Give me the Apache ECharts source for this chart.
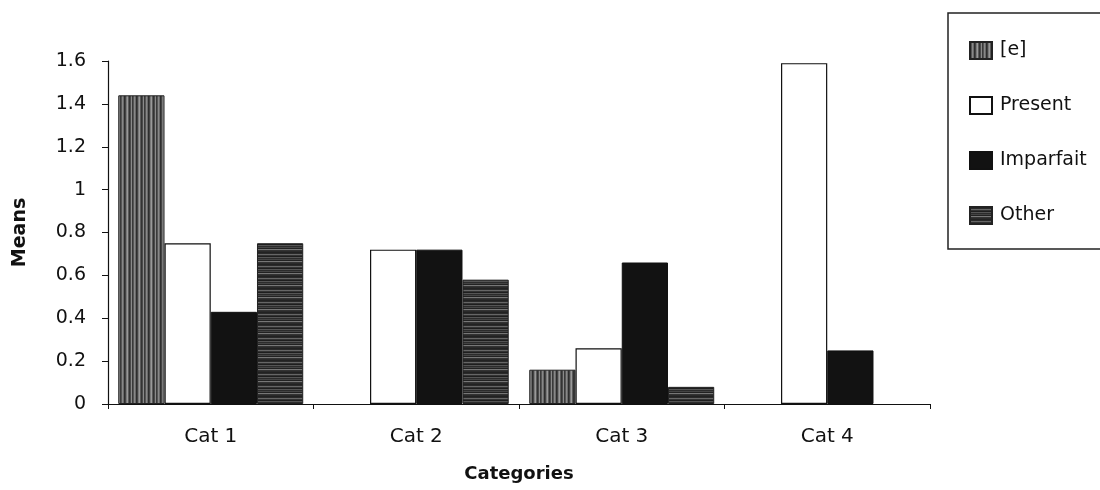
<!DOCTYPE html>
<html>
<head>
<meta charset="utf-8">
<script src="https://cdn.jsdelivr.net/npm/echarts@6/dist/echarts.min.js"></script>
<style>
html,body{margin:0;padding:0;background:#fff;}
#chart{width:1100px;height:490px;}
</style>
</head>
<body>
<div id="chart"></div>
<script>
var categories = ['Cat 1', 'Cat 2', 'Cat 3', 'Cat 4'];
var seriesNames = ['[e]', 'Present', 'Imparfait', 'Other'];
var eValues = [1.44, 0, 0.16, 0];
var presentValues = [0.75, 0.72, 0.26, 1.59];
var imparfaitValues = [0.43, 0.72, 0.66, 0.25];
var otherValues = [0.75, 0.58, 0.08, 0];
var yTicks = [0, 0.2, 0.4, 0.6, 0.8, 1, 1.2, 1.4, 1.6];

function stripePattern(vertical, cols) {
  var n = cols.length;
  var c = document.createElement('canvas');
  c.width = vertical ? n : 4;
  c.height = vertical ? 4 : n;
  var ctx = c.getContext('2d');
  for (var i = 0; i < n; i++) {
    ctx.fillStyle = cols[i];
    if (vertical) ctx.fillRect(i, 0, 1, 4); else ctx.fillRect(0, i, 4, 1);
  }
  return { image: c, repeat: 'repeat' };
}
var ePattern = stripePattern(true, ['#3a3a3a','#555','#888','#6a6a6a','#2e2e2e','#444','#7a7a7a','#999','#5a5a5a','#333','#4a4a4a','#8a8a8a']);
var otherPattern = stripePattern(false, ['#222','#2a2a2a','#666','#333','#1e1e1e','#555','#2c2c2c','#444','#222','#777','#333','#2a2a2a']);

// zero means no bar drawn
function bars(arr) { return arr.map(function (v) { return v === 0 ? null : v; }); }

var chart = echarts.init(document.getElementById('chart'), null, {renderer: 'canvas'});
var font = 'DejaVu Sans, Liberation Sans, sans-serif';
var barBase = {
  type: 'bar',
  barGap: '0%',
  barCategoryGap: '10%',
  clip: false,
  emphasis: {disabled: true}
};
chart.setOption({
  animation: false,
  backgroundColor: '#ffffff',
  grid: {left: 108, right: 170, top: 61, bottom: 86, containLabel: false, outerBoundsMode: 'none'},
  graphic: [{
    type: 'rect',
    shape: {x: 948, y: 13, width: 160, height: 236},
    style: {fill: '#fff', stroke: '#222', lineWidth: 1.5},
    z: 0
  }],
  legend: {
    data: seriesNames,
    orient: 'vertical',
    left: 964,
    top: 36,
    itemWidth: 22,
    itemHeight: 17,
    itemGap: 36,
    icon: 'rect',
    textStyle: {fontFamily: font, fontSize: 19, color: '#111', padding: [0,0,0,3]},
    z: 5
  },
  xAxis: {
    type: 'category',
    data: categories,
    name: 'Categories',
    nameLocation: 'middle',
    nameGap: 61,
    nameTextStyle: {fontFamily: font, fontSize: 18, fontWeight: 'bold', color: '#111'},
    axisLine: {lineStyle: {color: '#111', width: 1.2}},
    axisTick: {show: true, length: 5, alignWithLabel: false, lineStyle: {color: '#111'}},
    axisLabel: {fontFamily: font, fontSize: 20, color: '#111', margin: 23}
  },
  yAxis: {
    type: 'value',
    min: 0,
    max: 1.6,
    interval: 0.2,
    name: 'Means',
    nameLocation: 'middle',
    nameGap: 78,
    nameRotate: 90,
    nameTextStyle: {fontFamily: font, fontSize: 19, fontWeight: 'bold', color: '#111'},
    axisLine: {show: true, lineStyle: {color: '#111', width: 1.2}},
    axisTick: {show: true, length: 6, lineStyle: {color: '#111'}},
    axisLabel: {fontFamily: font, fontSize: 19, color: '#111', margin: 22,
      formatter: function (v) { var i = yTicks.indexOf(Math.round(v*10)/10); return i >= 0 ? String(yTicks[i]) : ''; }},
    splitLine: {show: false}
  },
  series: [
    Object.assign({}, barBase, {name: seriesNames[0], data: bars(eValues),
      itemStyle: {color: ePattern, borderColor: '#222', borderWidth: 1}}),
    Object.assign({}, barBase, {name: seriesNames[1], data: bars(presentValues),
      itemStyle: {color: '#ffffff', borderColor: '#111', borderWidth: 1.2}}),
    Object.assign({}, barBase, {name: seriesNames[2], data: bars(imparfaitValues),
      itemStyle: {color: '#121212', borderColor: '#111', borderWidth: 1}}),
    Object.assign({}, barBase, {name: seriesNames[3], data: bars(otherValues),
      itemStyle: {color: otherPattern, borderColor: '#222', borderWidth: 1}})
  ]
});
</script>
</body>
</html>
